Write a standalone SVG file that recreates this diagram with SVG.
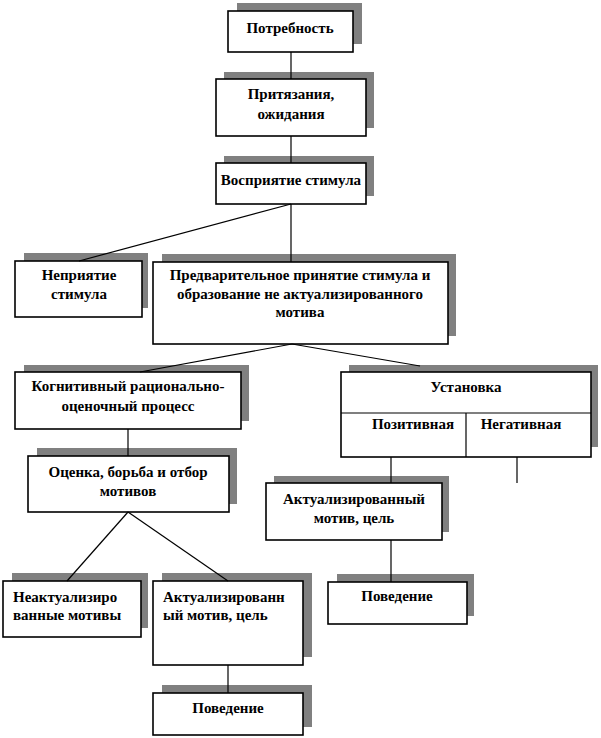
<svg xmlns="http://www.w3.org/2000/svg" width="601" height="738" viewBox="0 0 601 738">
<style>
.sh{fill:#808080;stroke:none}
.bx{fill:#fff;stroke:#000;stroke-width:1.6}
.ln{stroke:#000;stroke-width:1.2;fill:none}
text{font-family:'Liberation Serif','Times New Roman',serif;font-weight:700;font-size:15px;fill:#000}
.c{text-anchor:middle}
</style>
<rect width="601" height="738" fill="#fff"/>
<g id="n-potrebnost">
<rect class="sh" x="237" y="3" width="125" height="41"/>
<rect class="bx" x="228" y="11" width="125" height="41"/>
<text class="c" x="290" y="33">Потребность</text>
</g>
<g id="n-prityazaniya">
<rect class="sh" x="224" y="72" width="150" height="56"/>
<rect class="bx" x="216" y="79" width="150" height="57"/>
<text class="c" x="291" y="99">Притязания,</text>
<text class="c" x="291" y="119">ожидания</text>
</g>
<g id="n-vospriyatie">
<rect class="sh" x="224" y="156" width="150" height="40"/>
<rect class="bx" x="216" y="163" width="150" height="41"/>
<text class="c" x="291" y="185">Восприятие стимула</text>
</g>
<g id="n-nepriyatie">
<rect class="sh" x="24" y="253" width="124" height="55"/>
<rect class="bx" x="15" y="261" width="127" height="56"/>
<text class="c" x="79" y="280">Неприятие</text>
<text class="c" x="79" y="299">стимула</text>
</g>
<g id="n-predvaritelnoe">
<rect class="sh" x="162" y="254" width="294" height="82"/>
<rect class="bx" x="153" y="262" width="295" height="82"/>
<text class="c" x="300" y="280">Предварительное принятие стимула и</text>
<text class="c" x="300" y="299">образование не актуализированного</text>
<text class="c" x="300" y="317">мотива</text>
</g>
<g id="n-kognitivny">
<rect class="sh" x="24" y="365" width="225" height="56"/>
<rect class="bx" x="15" y="372" width="226" height="57"/>
<text class="c" x="128" y="391">Когнитивный рационально-</text>
<text class="c" x="128" y="411">оценочный процесс</text>
</g>
<g id="n-ustanovka">
<rect class="sh" x="349" y="365" width="249" height="82"/>
<rect class="bx" x="341" y="372" width="250" height="85"/>
<line class="ln" x1="341" y1="413" x2="591" y2="413"/>
<line class="ln" x1="466" y1="413" x2="466" y2="457"/>
<text class="c" x="466" y="392">Установка</text>
<text class="c" x="413" y="429">Позитивная</text>
<text class="c" x="521" y="429">Негативная</text>
</g>
<g id="n-otsenka">
<rect class="sh" x="37" y="448" width="200" height="56"/>
<rect class="bx" x="28" y="456" width="201" height="56"/>
<text class="c" x="128" y="477">Оценка, борьба и отбор</text>
<text class="c" x="128" y="496">мотивов</text>
</g>
<g id="n-aktual-right">
<rect class="sh" x="274" y="476" width="175" height="56"/>
<rect class="bx" x="266" y="483" width="176" height="57"/>
<text class="c" x="354" y="504">Актуализированный</text>
<text class="c" x="354" y="523">мотив, цель</text>
</g>
<g id="n-neaktual">
<rect class="sh" x="12" y="573" width="136" height="55"/>
<rect class="bx" x="3" y="581" width="138" height="56"/>
<text x="13" y="602">Неактуализиро</text>
<text x="13" y="620">ванные мотивы</text>
</g>
<g id="n-aktual-left">
<rect class="sh" x="162" y="573" width="150" height="84"/>
<rect class="bx" x="153" y="581" width="150" height="84"/>
<text x="163" y="602">Актуализированн</text>
<text x="163" y="620">ый мотив, цель</text>
</g>
<g id="n-povedenie-right">
<rect class="sh" x="337" y="574" width="137" height="42"/>
<rect class="bx" x="328" y="582" width="139" height="42"/>
<text class="c" x="397" y="601">Поведение</text>
</g>
<g id="n-povedenie-left">
<rect class="sh" x="162" y="685" width="150" height="42"/>
<rect class="bx" x="153" y="693" width="150" height="42"/>
<text class="c" x="228" y="713">Поведение</text>
</g>
<g id="connectors">
<line class="ln" x1="291" y1="52" x2="291" y2="79"/>
<line class="ln" x1="291" y1="136" x2="291" y2="163"/>
<line class="ln" x1="291" y1="204" x2="291" y2="262"/>
<line class="ln" x1="291" y1="204" x2="79" y2="261"/>
<line class="ln" x1="292" y1="344" x2="140" y2="372"/>
<line class="ln" x1="292" y1="344" x2="420" y2="366"/>
<line class="ln" x1="128" y1="429" x2="128" y2="456"/>
<line class="ln" x1="128" y1="512" x2="67" y2="581"/>
<line class="ln" x1="128" y1="512" x2="228" y2="581"/>
<line class="ln" x1="228" y1="665" x2="228" y2="693"/>
<line class="ln" x1="391" y1="457" x2="391" y2="483"/>
<line class="ln" x1="517" y1="457" x2="517" y2="483"/>
<line class="ln" x1="391" y1="540" x2="391" y2="582"/>
</g>
</svg>
